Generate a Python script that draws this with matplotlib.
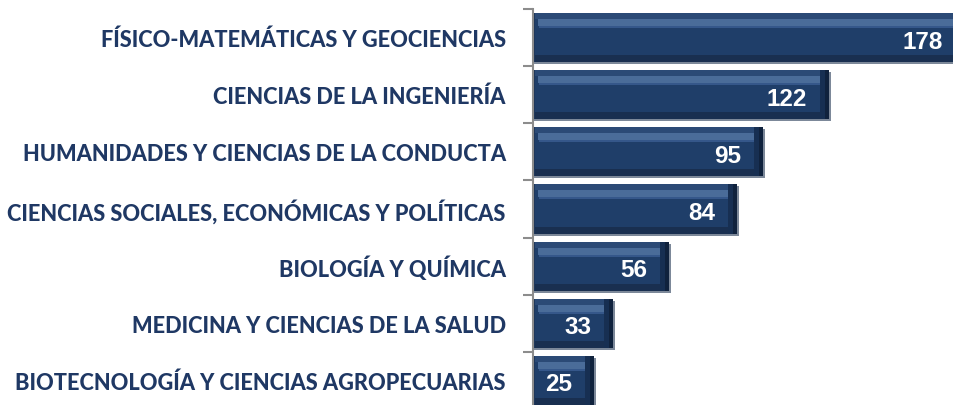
import matplotlib
matplotlib.use("Agg")
import matplotlib.pyplot as plt
import numpy as np

# Data
categories = [
    "FÍSICO-MATEMÁTICAS Y GEOCIENCIAS",
    "CIENCIAS DE LA INGENIERÍA",
    "HUMANIDADES Y CIENCIAS DE LA CONDUCTA",
    "CIENCIAS SOCIALES, ECONÓMICAS Y POLÍTICAS",
    "BIOLOGÍA Y QUÍMICA",
    "MEDICINA Y CIENCIAS DE LA SALUD",
    "BIOTECNOLOGÍA Y CIENCIAS AGROPECUARIAS",
]
values = [178, 122, 95, 84, 56, 33, 25]

NAVY_TEXT = "#1f3864"
BAR = "#1f3e69"
BAR_TOP = "#2b4a76"
BAR_HILITE = "#4a6c99"
BAR_BOTTOM = "#192f50"
BAR_EDGE = "#10223d"
SHADOW = "#7c8899"
AXIS_GRAY = "#8c8c8c"


def main() -> None:
    fig = plt.figure(figsize=(9.54, 4.06), dpi=100)
    ax = fig.add_axes([533.5 / 954, -4 / 406, 1 - 533.5 / 954, 400 / 406])

    y = np.arange(len(values))
    v = np.asarray(values, dtype=float)
    h = 0.86
    px = 1 / 57.0          # one pixel in y units
    pxx = 1 / 2.42         # one pixel in x units
    top = y - h / 2

    # drop shadow, main body, then the bevel bands
    ax.barh(y + 2 * px, v + 2 * pxx, height=h, color=SHADOW, zorder=1)
    ax.barh(y, v, height=h, color=BAR, zorder=2)
    ax.barh(top + 3 * px, v, height=6 * px, color=BAR_TOP, zorder=3)
    ax.barh(top + 9.5 * px, v - 12 * pxx, left=5 * pxx, height=7 * px, color=BAR_HILITE, zorder=3)
    ax.barh(top + 14 * px, v - 14 * pxx, left=6 * pxx, height=2 * px, color="#35578a", zorder=3)
    ax.barh(y + h / 2 - 3.5 * px, v, height=7 * px, color=BAR_BOTTOM, zorder=3)
    ax.barh(y, 9 * pxx, left=v - 9 * pxx, height=h, color="#172f52", zorder=4)
    ax.barh(y, 4 * pxx, left=v - 4 * pxx, height=h, color=BAR_EDGE, zorder=4)
    ax.barh(y, 2 * pxx, left=0, height=h, color="#1a3458", zorder=4)

    for yi, val in zip(y, values):
        ax.text(val - 9, yi + 0.06, str(val), ha="right", va="center",
                color="white", fontsize=17.5, fontweight="bold",
                family="Liberation Sans", zorder=5)

    ax.set_xlim(0, (954 - 533.5) / 2.42)
    ax.set_ylim(len(values) - 0.5, -0.5)

    ax.set_yticks(y)
    ax.set_yticklabels(categories, fontsize=15.7, fontweight=900,
                       color=NAVY_TEXT, family="Lato")
    ax.tick_params(axis="y", which="major", length=0, pad=20)
    ax.set_yticks(np.arange(len(values) + 1) - 0.5, minor=True)
    ax.tick_params(axis="y", which="minor", length=7, width=1.5, color=AXIS_GRAY)
    ax.set_xticks([])

    for side in ("top", "right", "bottom"):
        ax.spines[side].set_visible(False)
    ax.spines["left"].set_color(AXIS_GRAY)
    ax.spines["left"].set_linewidth(1.5)
    ax.spines["left"].set_zorder(6)

    fig.savefig("out.png", dpi=100)


if __name__ == "__main__":
    main()
